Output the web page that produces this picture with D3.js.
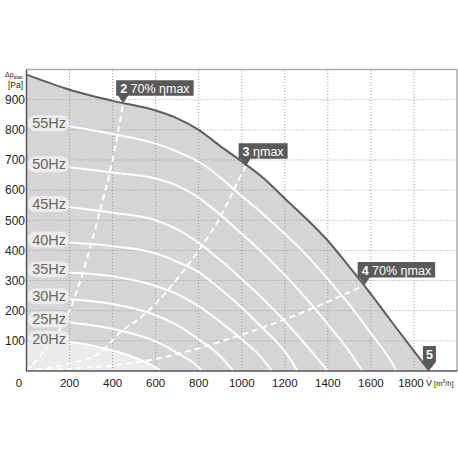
<!DOCTYPE html>
<html>
<head>
<meta charset="utf-8">
<script src="https://cdn.jsdelivr.net/npm/d3@7"></script>
<style>
  body { margin: 0; background: #fff; }
  svg text { font-family: "Liberation Sans", Arial, sans-serif; }
</style>
</head>
<body>
<div id="chart"></div>
<script>
// axis ticks
var flowTicks = [200, 400, 600, 800, 1000, 1200, 1400, 1600, 1800];
var pressureTicks = [100, 200, 300, 400, 500, 600, 700, 800, 900];

// outer limit curve [flow m3/h, pressure Pa]
var maxCurve = [[0, 983], [200, 933], [400, 896], [600, 864], [700, 838], [800, 800], [900, 746], [1000, 695],
  [1100, 640], [1200, 572], [1300, 505], [1400, 432], [1500, 345], [1600, 255], [1700, 160], [1800, 66], [1872, 0]];

// speed curves
var hz55 = [[200, 812], [400, 786], [600, 754], [700, 728], [800, 694], [900, 642], [1000, 580], [1100, 520],
  [1200, 455], [1300, 385], [1400, 305], [1500, 220], [1600, 125], [1700, 25], [1720, 0]];
var hz50 = [[200, 676], [400, 658], [600, 638], [700, 615], [800, 575], [900, 518], [1000, 455], [1100, 390],
  [1200, 318], [1300, 240], [1400, 155], [1500, 65], [1560, 0]];
var hz45 = [[200, 544], [400, 525], [600, 500], [700, 470], [800, 425], [900, 368], [1000, 305], [1100, 238],
  [1200, 165], [1300, 85], [1400, 0]];
var hz40 = [[200, 426], [400, 414], [600, 390], [700, 362], [800, 328], [900, 272], [1000, 210], [1100, 140],
  [1200, 65], [1260, 0]];
var hz35 = [[200, 327], [400, 314], [600, 282], [700, 255], [800, 215], [900, 163], [1000, 105], [1100, 38], [1140, 0]];
var hz30 = [[200, 238], [400, 222], [600, 185], [700, 152], [800, 105], [900, 50], [960, 0]];
var hz25 = [[200, 161], [400, 140], [600, 98], [700, 60], [800, 12], [815, 0]];
var hz20 = [[200, 97], [300, 85], [400, 68], [500, 45], [600, 12], [625, 0]];

var speedLabels = ["20Hz", "25Hz", "30Hz", "35Hz", "40Hz", "45Hz", "50Hz", "55Hz"];

// system (efficiency) lines, dashed
var eta2 = [[0, 0], [40, 30], [100, 85], [200, 200], [300, 420], [350, 555], [400, 700], [449, 888]];
var eta3 = [[0, 0], [200, 25], [340, 60], [430, 125], [535, 180], [635, 250], [710, 315], [805, 405], [900, 510], [990, 640], [1018, 679]];
var eta4 = [[0, 0], [200, 8], [400, 18], [540, 32], [790, 73], [990, 118], [1250, 185], [1571, 285]];

// point markers
var markerNum = ["2", "3", "4", "5"];
var markerText = [" 70% \u03b7max", " \u03b7max", " 70% \u03b7max", ""];
var markerAt = [[449, 888], [1018, 679], [1571, 285], [1872, 0]];

function init() {
    var w = 458;
    var h = 458;
    var margin = {top: 69.5, right: 1, bottom: 87, left: 26.5};

    var svg = d3.select("#chart")
        .append("svg")
        .attr("width", w)
        .attr("height", h);

    var xScale = d3.scaleLinear()
        .domain([0, 2000])
        .range([margin.left, w - margin.right]);

    var yScale = d3.scaleLinear()
        .domain([0, 1000])
        .range([h - margin.bottom, margin.top]);

    var line = d3.line()
        .x(d => xScale(d[0]))
        .y(d => yScale(d[1]))
        .curve(d3.curveMonotoneX);

    var area = d3.area()
        .x(d => xScale(d[0]))
        .y0(yScale(0))
        .y1(d => yScale(d[1]))
        .curve(d3.curveMonotoneX);

    // grey working area
    svg.append("path")
        .attr("d", area(maxCurve))
        .attr("fill", "#d5d5d5");

    // lighter part under lowest speed
    svg.append("path")
        .attr("d", area([[0, 97]].concat(hz20)))
        .attr("fill", "#ebebeb");

    // grid
    svg.append("g")
        .selectAll("line")
        .data(flowTicks)
        .enter()
        .append("line")
        .attr("x1", d => xScale(d))
        .attr("x2", d => xScale(d))
        .attr("y1", yScale(0))
        .attr("y2", yScale(1000))
        .attr("stroke", "#999")
        .attr("stroke-dasharray", "1,2");

    svg.append("g")
        .selectAll("line")
        .data(pressureTicks)
        .enter()
        .append("line")
        .attr("x1", xScale(0))
        .attr("x2", xScale(2000))
        .attr("y1", d => yScale(d))
        .attr("y2", d => yScale(d))
        .attr("stroke", "#999")
        .attr("stroke-dasharray", "1,2");

    // frame top/right
    svg.append("path")
        .attr("d", "M" + xScale(0) + "," + yScale(1000) + "H" + xScale(2000) + "V" + yScale(0))
        .attr("fill", "none")
        .attr("stroke", "#aaa")
        .attr("stroke-width", 1.5);

    var speeds = [hz20, hz25, hz30, hz35, hz40, hz45, hz50, hz55];

    svg.append("clipPath")
        .attr("id", "clip")
        .append("rect")
        .attr("x", xScale(0))
        .attr("y", yScale(1000))
        .attr("width", xScale(2000) - xScale(0))
        .attr("height", yScale(0) - yScale(1000));

    svg.append("g")
        .attr("clip-path", "url(#clip)")
        .selectAll("path")
        .data(speeds)
        .enter()
        .append("path")
        .attr("d", d => line(d))
        .attr("fill", "none")
        .attr("stroke", "#fff")
        .attr("stroke-width", 2);

    // dashed efficiency lines
    svg.append("g")
        .attr("clip-path", "url(#clip)")
        .selectAll("path")
        .data([eta2, eta3, eta4])
        .enter()
        .append("path")
        .attr("d", d => line(d))
        .attr("fill", "none")
        .attr("stroke", "#fff")
        .attr("stroke-width", 2)
        .attr("stroke-dasharray", "6,4");

    // outer curve
    svg.append("path")
        .attr("d", line(maxCurve))
        .attr("fill", "none")
        .attr("stroke", "#5e5e5e")
        .attr("stroke-width", 2);

    // axes lines
    svg.append("path")
        .attr("d", "M" + xScale(0) + "," + yScale(1000) + "V" + yScale(0) + "H" + xScale(2000))
        .attr("fill", "none")
        .attr("stroke", "#555")
        .attr("stroke-width", 1.5);

    // tick labels
    svg.append("g")
        .selectAll("text")
        .data(pressureTicks)
        .enter()
        .append("text")
        .attr("x", 25)
        .attr("y", d => yScale(d) + 4.3)
        .attr("text-anchor", "end")
        .attr("font-size", "12px")
        .attr("fill", "#222")
        .text(d => d);

    svg.append("g")
        .selectAll("text")
        .data(flowTicks)
        .enter()
        .append("text")
        .attr("x", d => d === 1800 ? xScale(d) - 3 : xScale(d))
        .attr("y", 386.5)
        .attr("text-anchor", "middle")
        .attr("font-size", "11.5px")
        .attr("fill", "#222")
        .text(d => d);

    svg.append("text")
        .attr("x", 19)
        .attr("y", 386.5)
        .attr("text-anchor", "middle")
        .attr("font-size", "11.5px")
        .attr("fill", "#222")
        .text("0");

    // axis titles
    var yt = svg.append("text")
        .attr("x", 5)
        .attr("y", 77)
        .attr("font-size", "7px")
        .attr("fill", "#222");
    yt.append("tspan").text("\u0394p");
    yt.append("tspan").attr("font-size", "5.5px").attr("dy", 2).text("stat");
    svg.append("text")
        .attr("x", 8)
        .attr("y", 88)
        .attr("font-size", "8.5px")
        .attr("fill", "#222")
        .text("[Pa]");

    var xt = svg.append("text")
        .attr("x", 426)
        .attr("y", 385.5)
        .attr("font-size", "7.5px")
        .attr("fill", "#222");
    xt.append("tspan").attr("font-size", "9px").text("V\u0307");
    xt.append("tspan").text(" [m");
    xt.append("tspan").attr("font-size", "5px").attr("dy", -3).text("3");
    xt.append("tspan").attr("dy", 3).text("/h]");

    // speed labels with light pill
    speedLabels.forEach(function(lab, i) {
        var yy = yScale(speeds[i][0][1]) - 3;
        var g = svg.append("g");
        var t = g.append("text")
            .attr("x", 66)
            .attr("y", yy + 5)
            .attr("text-anchor", "end")
            .attr("font-size", "14.5px")
            .attr("fill", "#666")
            .text(lab);
        var tw = t.node().getComputedTextLength();
        g.insert("rect", "text")
            .attr("x", 66 - tw - 4)
            .attr("y", yy - 8)
            .attr("width", tw + 7)
            .attr("height", 16)
            .attr("rx", 7)
            .attr("fill", "#ececec");
    });

    // point markers
    markerNum.forEach(function(n, i) {
        var px = xScale(markerAt[i][0]);
        var py = yScale(markerAt[i][1]);
        var g = svg.append("g");
        var t = g.append("text")
            .attr("y", 0)
            .attr("font-size", "12.5px")
            .attr("fill", "#fff");
        t.append("tspan").attr("font-weight", "bold").text(n);
        t.append("tspan").text(markerText[i]);
        var tw = t.node().getComputedTextLength();
        if (markerText[i] === "") {
            var bw = 13, bx = px - 6.5, by = py - 25;
            g.insert("path", "text")
                .attr("d", "M" + bx + "," + by + "h" + bw + "v16l-6.5,8l-6.5,-8z")
                .attr("fill", "#5a5a5a");
            t.attr("x", bx + 3).attr("y", by + 12.5);
        } else {
            var bw2 = tw + 8, bx2 = px - 7, by2 = py - 23;
            g.insert("path", "text")
                .attr("d", "M" + bx2 + "," + by2 + "h" + bw2 + "v15.5H" + (px + 5) + "L" + px + "," + py + "L" + (px - 5) + "," + (by2 + 15.5) + "H" + bx2 + "z")
                .attr("fill", "#5a5a5a");
            t.attr("x", bx2 + 4).attr("y", by2 + 12.5);
        }
    });
}

window.onload = init;
</script>
</body>
</html>
